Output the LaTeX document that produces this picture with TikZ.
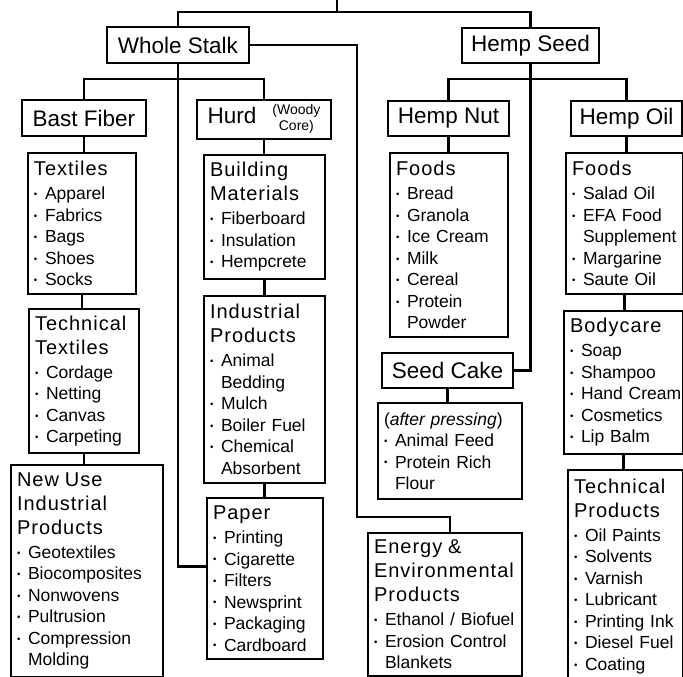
\documentclass[tikz,border=0pt]{standalone}
\usepackage{fontspec}
\setmainfont{Liberation Sans}
\newfontfamily\hdrfont[LetterSpace=5]{Liberation Sans}
\usepackage{tikz}

\newcommand{\bigfont}{\fontsize{22.5}{26}\selectfont}
\newcommand{\itemfont}{\fontsize{17.5}{21.5}\selectfont}
\newcommand{\hd}[1]{\mbox{\hdrfont\fontsize{20}{24}\selectfont #1}\\[2.5pt]}
\newcommand{\itm}[1]{\mbox{\makebox[11pt][l]{\raisebox{0.12em}{\scalebox{0.55}{\textbullet}}}#1}}
\newcommand{\cnt}{\hspace*{11pt}}

\tikzset{
    catbox/.style={draw, line width=2pt, font=\bigfont, inner sep=0pt, anchor=north west},
    listbox/.style={draw, line width=2pt, font=\itemfont, align=left, inner xsep=6pt, inner ysep=0pt, anchor=north west},
    conn/.style={line width=2.4pt}
}

\begin{document}
\begin{tikzpicture}[x=1pt, y=1pt]
            \useasboundingbox (0,0) rectangle (683,-677);

            \node[catbox, minimum width=142, minimum height=36] at (106,-26) (stalk) {Whole Stalk};
            \node[catbox, minimum width=137, minimum height=35] at (461,-27) (seed) {Hemp Seed};

            \node[catbox, minimum width=124, minimum height=36] at (21,-99) (bast) {Bast Fiber};
            \node[catbox, minimum width=134, minimum height=39] at (196,-99) (hurd)
                {Hurd\hspace{16pt}{\fontsize{14}{15.5}\selectfont\begin{tabular}[c]{@{}c@{}}(Woody\\Core)\end{tabular}}};
            \node[catbox, minimum width=121, minimum height=35] at (387,-100) (nut) {Hemp Nut};
            \node[catbox, minimum width=111, minimum height=35] at (570,-100) (oil) {Hemp Oil};

            \node[listbox, text width=96, minimum height=141] at (27,-152) (textiles)
                {\hd{Textiles}\itm{Apparel}\\\itm{Fabrics}\\\itm{Bags}\\\itm{Shoes}\\\itm{Socks}};
            \node[listbox, text width=98, minimum height=144] at (28,-308) (techtex)
                {\hd{Technical}\hd{Textiles}\itm{Cordage}\\\itm{Netting}\\\itm{Canvas}\\\itm{Carpeting}};
            \node[listbox, text width=140, minimum height=212] at (10,-464) (newuse)
                {\hd{New Use}\hd{Industrial}\hd{Products}\itm{Geotextiles}\\\itm{Biocomposites}\\\itm{Nonwovens}\\
                 \itm{Pultrusion}\\\itm{Compression}\\\cnt Molding};

            \node[listbox, text width=109, minimum height=124] at (203,-154) (building)
                {\hd{Building}\hd{Materials}\itm{Fiberboard}\\\itm{Insulation}\\\itm{Hempcrete}};
            \node[listbox, text width=109, minimum height=187] at (203,-295) (indprod)
                {\hd{Industrial}\hd{Products}\itm{Animal}\\\cnt Bedding\\\itm{Mulch}\\\itm{Boiler Fuel}\\
                 \itm{Chemical}\\\cnt Absorbent};
            \node[listbox, text width=104, minimum height=161] at (206,-497) (paper)
                {\hd{Paper}\itm{Printing}\\\itm{Cigarette}\\\itm{Filters}\\\itm{Newsprint}\\\itm{Packaging}\\\itm{Cardboard}};

            \node[listbox, text width=106, minimum height=184] at (389,-152) (nutfoods)
                {\hd{Foods}\itm{Bread}\\\itm{Granola}\\\itm{Ice Cream}\\\itm{Milk}\\\itm{Cereal}\\\itm{Protein}\\\cnt Powder};
            \node[catbox, minimum width=131, minimum height=35] at (381,-352) (cake) {Seed Cake};
            \node[listbox, text width=132, minimum height=96] at (377,-402) (pressing)
                {(\textit{after pressing})\\\itm{Animal Feed}\\\itm{Protein Rich}\\\cnt Flour};
            \node[listbox, text width=142, minimum height=143] at (367,-532) (energy)
                {\hd{Energy \&}\hd{Environmental}\hd{Products}\itm{Ethanol / Biofuel}\\\itm{Erosion Control}\\\cnt Blankets};

            \node[listbox, text width=105, minimum height=141] at (565,-152) (oilfoods)
                {\hd{Foods}\itm{Salad Oil}\\\itm{EFA Food}\\\cnt Supplement\\\itm{Margarine}\\\itm{Saute Oil}};
            \node[listbox, text width=107, minimum height=143] at (563,-310) (bodycare)
                {\hd{Bodycare}\itm{Soap}\\\itm{Shampoo}\\\itm{Hand Cream}\\\itm{Cosmetics}\\\itm{Lip Balm}};
            \node[listbox, text width=103, minimum height=213] at (567,-469) (techprod)
                {\hd{Technical}\hd{Products}\itm{Oil Paints}\\\itm{Solvents}\\\itm{Varnish}\\\itm{Lubricant}\\
                 \itm{Printing Ink}\\\itm{Diesel Fuel}\\\itm{Coating}};

            \coordinate (root) at (337,0);
            \coordinate (rootj) at (337,-12);
            \coordinate (stalkj) at (174,-79);
            \coordinate (seedj) at (530,-79);
            \coordinate (bendE) at (357,-517);

            \draw[conn] (root) -- (rootj);
            \draw[conn] (stalk.north) |- (rootj) -| (seed.north);
            \draw[conn] (stalk.east) -| (bendE) -| ([xshift=5pt]energy.north);
            \draw[conn] (stalk.south) |- ([yshift=12pt]paper.west);
            \draw[conn] (bast.north) |- (stalkj) -| (hurd.north);
            \draw[conn] (nut.north) |- (seedj) -| (oil.north);
            \draw[conn] (seed.south) |- (cake.east);

            \draw[conn] (bast.south) -- (bast.south |- textiles.north);
            \draw[conn] (textiles.south) -- (textiles.south |- techtex.north);
            \draw[conn] (techtex.south) -- (techtex.south |- newuse.north);
            \draw[conn] (hurd.south) -- (hurd.south |- building.north);
            \draw[conn] (building.south) -- (building.south |- indprod.north);
            \draw[conn] (indprod.south) -- (indprod.south |- paper.north);
            \draw[conn] (nut.south) -- (nut.south |- nutfoods.north);
            \draw[conn] (cake.south) -- (cake.south |- pressing.north);
            \draw[conn] (oil.south) -- (oil.south |- oilfoods.north);
            \draw[conn] (oilfoods.south) -- (oilfoods.south |- bodycare.north);
            \draw[conn] (bodycare.south) -- (bodycare.south |- techprod.north);
\end{tikzpicture}
\end{document}
